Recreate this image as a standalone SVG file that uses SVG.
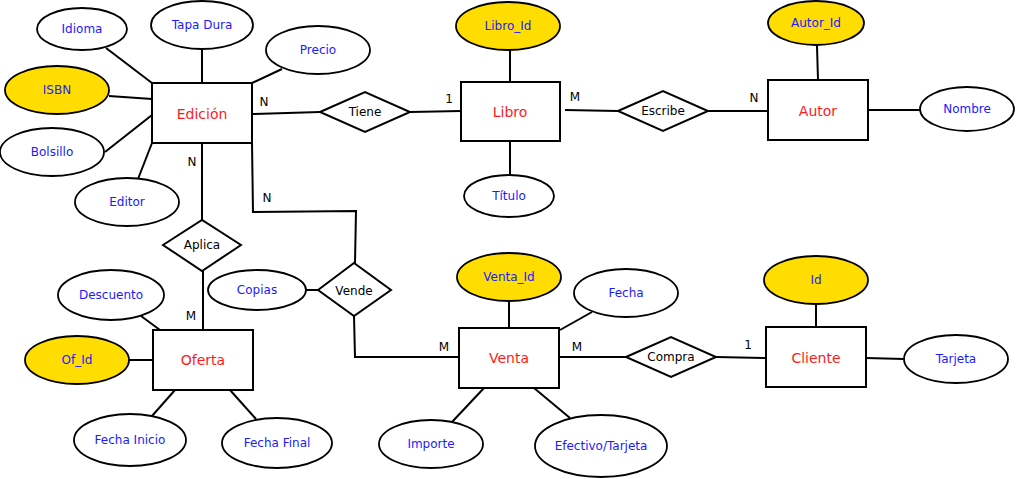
<svg xmlns="http://www.w3.org/2000/svg" width="1017" height="479" viewBox="0 0 1017 479">
<style>
.ent{fill:#fff;stroke:#000;stroke-width:2}
.att{fill:#fff;stroke:#000;stroke-width:1.8}
.key{fill:#ffdd00;stroke:#000;stroke-width:1.8}
.rel{fill:#fff;stroke:#000;stroke-width:2}
.ln{fill:none;stroke:#000;stroke-width:2}
text{font-family:"DejaVu Sans","Liberation Sans",sans-serif;text-anchor:middle;dominant-baseline:central}
.et{fill:#ff1a1a;font-size:14px}
.at{fill:#1a1aff;font-size:12px}
.rt{fill:#000;font-size:12px}
.ct{fill:#000;font-size:12px}
</style>
<rect width="1017" height="479" fill="#fff"/>
<g id="connectors">
<line class="ln" x1="106" y1="48" x2="152" y2="83"/>
<line class="ln" x1="202" y1="49" x2="202" y2="83"/>
<line class="ln" x1="282" y1="69" x2="252" y2="83"/>
<line class="ln" x1="109" y1="96" x2="152" y2="99"/>
<line class="ln" x1="105" y1="152" x2="152" y2="115"/>
<line class="ln" x1="138" y1="179" x2="152" y2="143"/>
<line class="ln" x1="252" y1="114" x2="320" y2="112"/>
<line class="ln" x1="410" y1="112" x2="461" y2="111"/>
<line class="ln" x1="510" y1="50" x2="510" y2="82"/>
<line class="ln" x1="510" y1="141" x2="510" y2="175"/>
<line class="ln" x1="565" y1="110" x2="618" y2="111"/>
<line class="ln" x1="708" y1="111" x2="768" y2="111"/>
<line class="ln" x1="817" y1="46" x2="818" y2="80"/>
<line class="ln" x1="868" y1="110" x2="920" y2="110"/>
<line class="ln" x1="202" y1="143" x2="202" y2="220"/>
<line class="ln" x1="203" y1="271" x2="203" y2="330"/>
<line class="ln" x1="141" y1="316" x2="160" y2="330"/>
<line class="ln" x1="129" y1="360" x2="153" y2="360"/>
<line class="ln" x1="175" y1="390" x2="152" y2="416"/>
<line class="ln" x1="230" y1="390" x2="256" y2="419"/>
<polyline class="ln" points="252,143 253,212 356,211 355,263"/>
<line class="ln" x1="306" y1="290" x2="318" y2="290"/>
<polyline class="ln" points="354,316 355,357 459,357"/>
<line class="ln" x1="509" y1="301" x2="509" y2="328"/>
<line class="ln" x1="592" y1="312" x2="560" y2="330"/>
<line class="ln" x1="484" y1="388" x2="452" y2="422"/>
<line class="ln" x1="534" y1="388" x2="570" y2="418"/>
<line class="ln" x1="559" y1="357" x2="626" y2="357"/>
<line class="ln" x1="716" y1="357" x2="766" y2="358"/>
<line class="ln" x1="816" y1="304" x2="816" y2="327"/>
<line class="ln" x1="866" y1="358" x2="904" y2="359"/>
<text class="ct" x="264" y="102">N</text>
<text class="ct" x="449" y="99">1</text>
<text class="ct" x="575" y="97">M</text>
<text class="ct" x="754" y="98">N</text>
<text class="ct" x="192" y="162">N</text>
<text class="ct" x="191" y="316">M</text>
<text class="ct" x="267" y="198">N</text>
<text class="ct" x="444" y="347">M</text>
<text class="ct" x="577" y="347">M</text>
<text class="ct" x="748" y="345">1</text>
</g>
<g id="edicion"><rect class="ent" x="152" y="83" width="100" height="60"/><text class="et" x="202" y="114">Edición</text></g>
<g id="idioma"><ellipse class="att" cx="82" cy="29" rx="45" ry="21"/><text class="at" x="82" y="29">Idioma</text></g>
<g id="tapadura"><ellipse class="att" cx="202" cy="25" rx="51" ry="24"/><text class="at" x="202" y="25">Tapa Dura</text></g>
<g id="precio"><ellipse class="att" cx="318" cy="50" rx="52" ry="24"/><text class="at" x="318" y="50">Precio</text></g>
<g id="isbn"><ellipse class="key" cx="57" cy="90" rx="52" ry="24"/><text class="at" x="57" y="90">ISBN</text></g>
<g id="bolsillo"><ellipse class="att" cx="52" cy="152" rx="52" ry="24"/><text class="at" x="52" y="152">Bolsillo</text></g>
<g id="editor"><ellipse class="att" cx="127" cy="202" rx="52" ry="24"/><text class="at" x="127" y="202">Editor</text></g>
<g id="tiene"><polygon class="rel" points="320,112 365,92 410,112 365,132"/><text class="rt" x="365" y="112">Tiene</text></g>
<g id="libro"><rect class="ent" x="461" y="82" width="99" height="59"/><text class="et" x="510" y="112">Libro</text></g>
<g id="libroid"><ellipse class="key" cx="508" cy="26" rx="52" ry="24"/><text class="at" x="508" y="26">Libro_Id</text></g>
<g id="titulo"><ellipse class="att" cx="509" cy="196" rx="45" ry="21"/><text class="at" x="509" y="196">Título</text></g>
<g id="escribe"><polygon class="rel" points="618,111 663,91 708,111 663,131"/><text class="rt" x="663" y="111">Escribe</text></g>
<g id="autor"><rect class="ent" x="768" y="80" width="100" height="60"/><text class="et" x="818" y="111">Autor</text></g>
<g id="autorid"><ellipse class="key" cx="816" cy="23" rx="48" ry="22"/><text class="at" x="816" y="23">Autor_Id</text></g>
<g id="nombre"><ellipse class="att" cx="967" cy="109" rx="47" ry="22"/><text class="at" x="967" y="109">Nombre</text></g>
<g id="aplica"><polygon class="rel" points="163,245 202,220 241,245 202,271"/><text class="rt" x="202" y="245">Aplica</text></g>
<g id="oferta"><rect class="ent" x="153" y="330" width="100" height="60"/><text class="et" x="203" y="360">Oferta</text></g>
<g id="descuento"><ellipse class="att" cx="111" cy="295" rx="53" ry="25"/><text class="at" x="111" y="295">Descuento</text></g>
<g id="ofid"><ellipse class="key" cx="77" cy="360" rx="52" ry="24"/><text class="at" x="77" y="360">Of_Id</text></g>
<g id="fechainicio"><ellipse class="att" cx="130" cy="440" rx="56" ry="26"/><text class="at" x="130" y="440">Fecha Inicio</text></g>
<g id="fechafinal"><ellipse class="att" cx="277" cy="443" rx="55" ry="25"/><text class="at" x="277" y="443">Fecha Final</text></g>
<g id="vende"><polygon class="rel" points="318,290 354,263 391,290 354,316"/><text class="rt" x="354" y="291">Vende</text></g>
<g id="copias"><ellipse class="att" cx="257" cy="290" rx="49" ry="20"/><text class="at" x="257" y="290">Copias</text></g>
<g id="venta"><rect class="ent" x="459" y="328" width="100" height="60"/><text class="et" x="509" y="358">Venta</text></g>
<g id="ventaid"><ellipse class="key" cx="509" cy="277" rx="52" ry="24"/><text class="at" x="509" y="277">Venta_Id</text></g>
<g id="fecha"><ellipse class="att" cx="626" cy="293" rx="52" ry="24"/><text class="at" x="626" y="293">Fecha</text></g>
<g id="importe"><ellipse class="att" cx="431" cy="444" rx="52" ry="24"/><text class="at" x="431" y="444">Importe</text></g>
<g id="efectivo"><ellipse class="att" cx="601" cy="446" rx="66" ry="31"/><text class="at" x="601" y="446">Efectivo/Tarjeta</text></g>
<g id="compra"><polygon class="rel" points="626,357 671,337 716,357 671,377"/><text class="rt" x="671" y="357">Compra</text></g>
<g id="cliente"><rect class="ent" x="766" y="327" width="100" height="60"/><text class="et" x="816" y="358">Cliente</text></g>
<g id="clienteid"><ellipse class="key" cx="816" cy="280" rx="52" ry="24"/><text class="at" x="816" y="280">Id</text></g>
<g id="tarjeta"><ellipse class="att" cx="956" cy="359" rx="52" ry="24"/><text class="at" x="956" y="359">Tarjeta</text></g>
</svg>
